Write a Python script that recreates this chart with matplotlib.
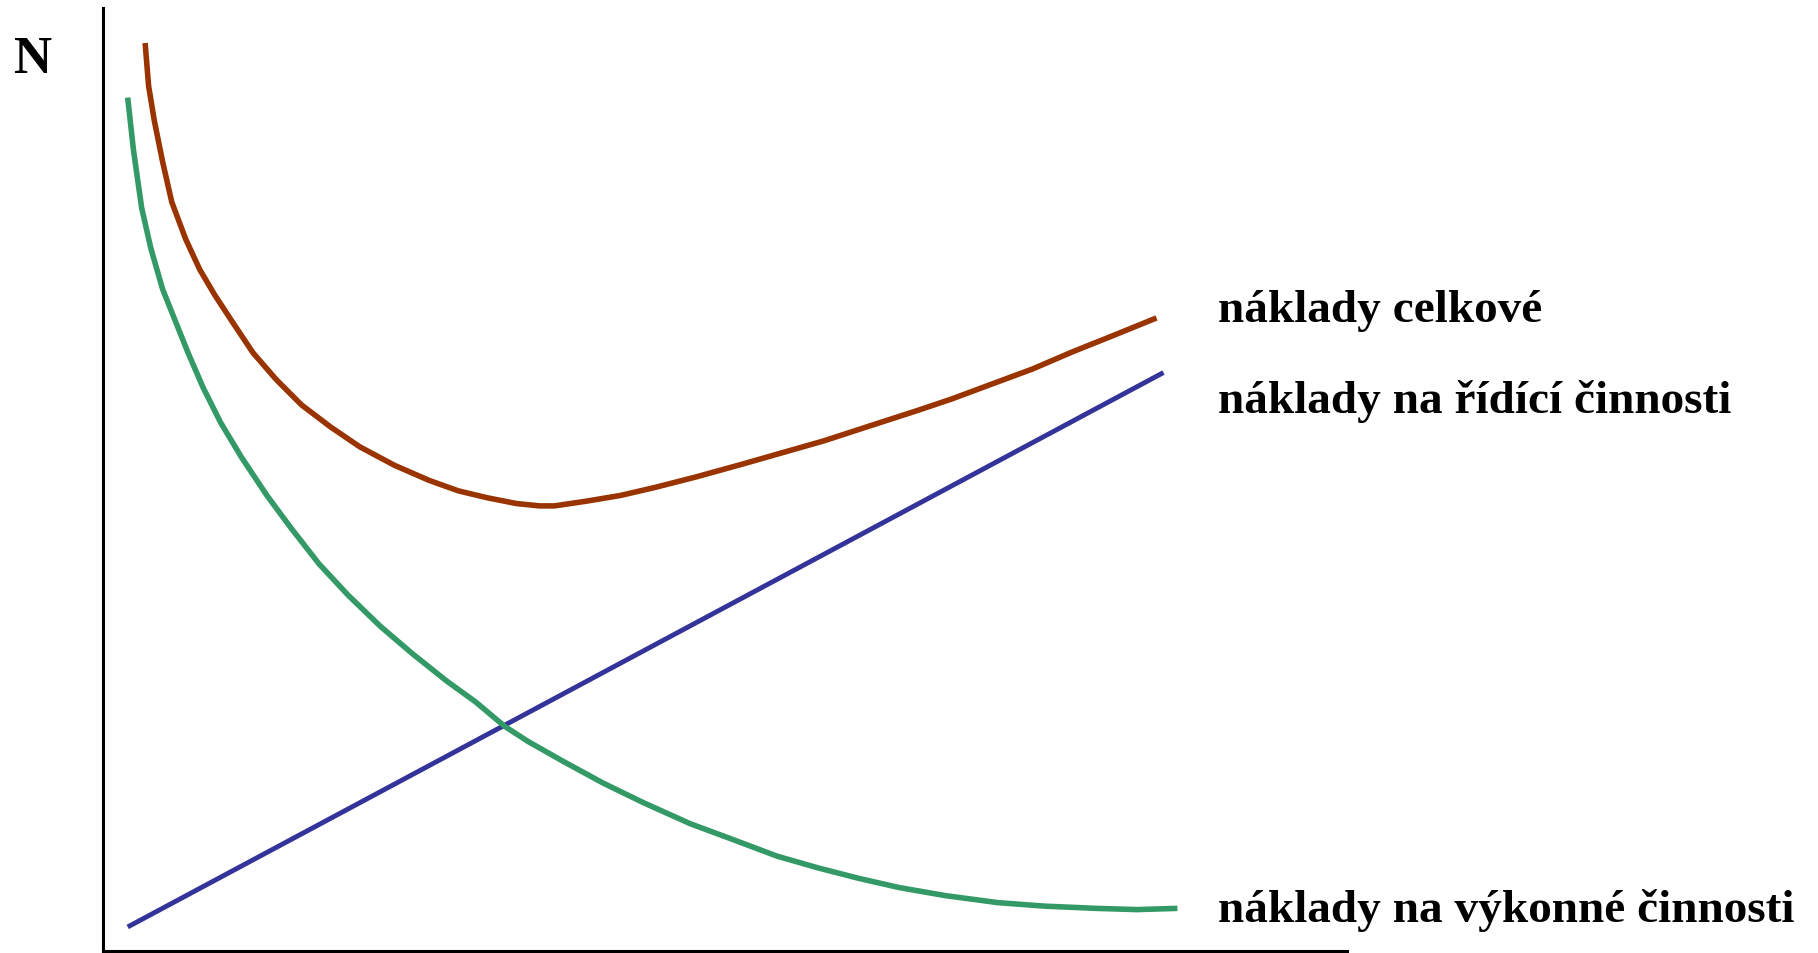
import matplotlib
matplotlib.use("Agg")
import matplotlib.pyplot as plt

# curve values (x, y in 0-100 axis units)
vykonne_x = [1.98, 2.44, 3.10, 3.84, 4.78, 5.71, 6.83, 8.04, 9.44, 11.12, 13.17, 15.03,
             17.36, 19.70, 22.31, 24.82, 27.62, 29.95, 32.28, 34.15, 36.95, 40.21, 43.47,
             47.20, 50.47, 54.20, 57.46, 60.73, 63.99, 67.72, 71.92, 75.65, 79.84, 83.10, 86.37]
vykonne_y = [90.50, 84.96, 78.81, 74.51, 70.20, 67.13, 63.44, 59.75, 56.06, 52.37, 48.31, 44.99,
             41.05, 37.73, 34.41, 31.58, 28.63, 26.41, 23.83, 22.23, 20.14, 17.80, 15.71,
             13.50, 11.90, 10.05, 8.82, 7.71, 6.73, 5.87, 5.13, 4.76, 4.52, 4.39, 4.52]

celkove_x = [3.38, 3.66, 4.12, 4.78, 5.52, 6.64, 7.76, 8.97, 10.37, 12.05, 13.91, 15.96,
             18.30, 20.63, 23.43, 26.22, 28.55, 30.89, 33.22, 35.08, 36.29, 38.81, 41.61,
             44.41, 47.67, 51.40, 54.66, 57.93, 61.66, 65.39, 68.19, 71.45, 74.71, 77.98,
             81.24, 84.69]
celkove_y = [96.28, 91.73, 88.04, 83.73, 79.43, 75.49, 72.29, 69.58, 66.76, 63.44, 60.61, 57.90,
             55.56, 53.47, 51.50, 49.90, 48.80, 48.06, 47.45, 47.20, 47.20, 47.69, 48.31,
             49.17, 50.27, 51.63, 52.86, 54.09, 55.69, 57.28, 58.52, 60.12, 61.71, 63.56,
             65.28, 67.13]

ridici_x = [1.98, 85.25]
ridici_y = [2.55, 61.34]

labels = ["náklady celkové", "náklady na řídící činnosti", "náklady na výkonné činnosti"]
label_y = [66.8, 57.2, 3.2]

plt.rcParams["font.family"] = ["Liberation Serif", "DejaVu Serif"]

fig = plt.figure(figsize=(18.18, 9.54), dpi=100)
ax = fig.add_axes([0.0567, 0.0021, 0.6842, 0.9885])
ax.set_xlim(0, 100)
ax.set_ylim(0, 100)

ax.plot(celkove_x, celkove_y, color="#993300", lw=4.0, solid_capstyle="butt", solid_joinstyle="round")
ax.plot(ridici_x, ridici_y, color="#333399", lw=3.5, solid_capstyle="butt")
ax.plot(vykonne_x, vykonne_y, color="#339966", lw=4.0, solid_capstyle="butt", solid_joinstyle="round")

for s in ["top", "right"]:
    ax.spines[s].set_visible(False)
for s in ["left", "bottom"]:
    ax.spines[s].set_linewidth(2.2)
    ax.spines[s].set_color("black")
ax.set_xticks([])
ax.set_yticks([])

for txt, y in zip(labels, label_y):
    ax.text(89.6, y, txt, fontsize=34, fontweight="bold", ha="left", va="baseline",
            clip_on=False)
ax.text(-5.6, 93.2, "N", fontsize=38, fontweight="bold", ha="center", va="baseline",
        clip_on=False)

fig.savefig("out.png", dpi=100)
